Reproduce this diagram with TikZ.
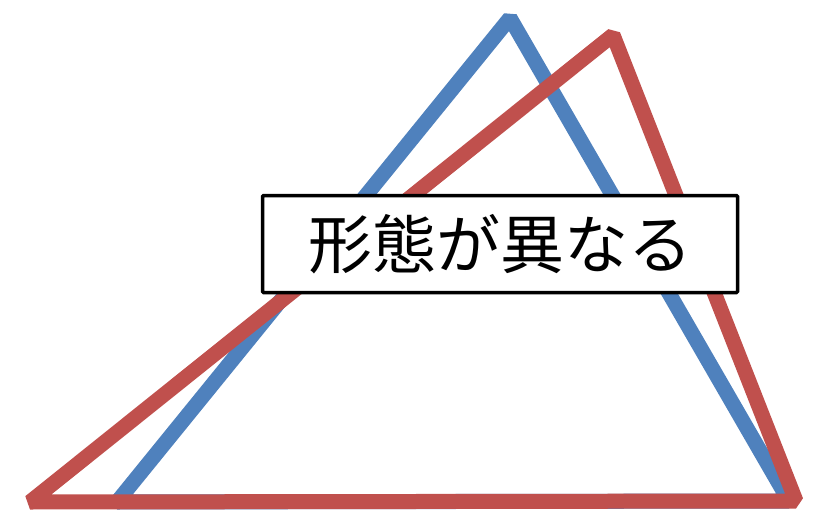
\documentclass[tikz,border=0pt]{standalone}
\usepackage{fontspec}
\newfontfamily\cjk{Noto Sans CJK JP}
\definecolor{tblue}{RGB}{79,129,189}
\definecolor{tred}{RGB}{192,80,77}
\begin{document}
\begin{tikzpicture}[x=1pt,y=-1pt,
  tri/.style={line width=15pt,line join=bevel},
  label/.style={draw=black,line width=3.5pt,fill=white,minimum width=475pt,minimum height=97pt,inner sep=0pt,rounded corners=1pt,font=\cjk\fontsize{64}{64}\selectfont}]
\useasboundingbox (0,0) rectangle (825,511);
\coordinate (b1) at (510,18);
\coordinate (b2) at (117,502);
\coordinate (b3) at (789,501);
\coordinate (r1) at (613,35);
\coordinate (r2) at (30,502);
\coordinate (r3) at (796,501);
\draw[tri,tblue] (b1) -- (b2) -- (b3) -- cycle;
\draw[tri,tred] (r1) -- (r2) -- (r3) -- cycle;
\node[label] (t) at (500,244) {形態が異なる};
\end{tikzpicture}
\end{document}
